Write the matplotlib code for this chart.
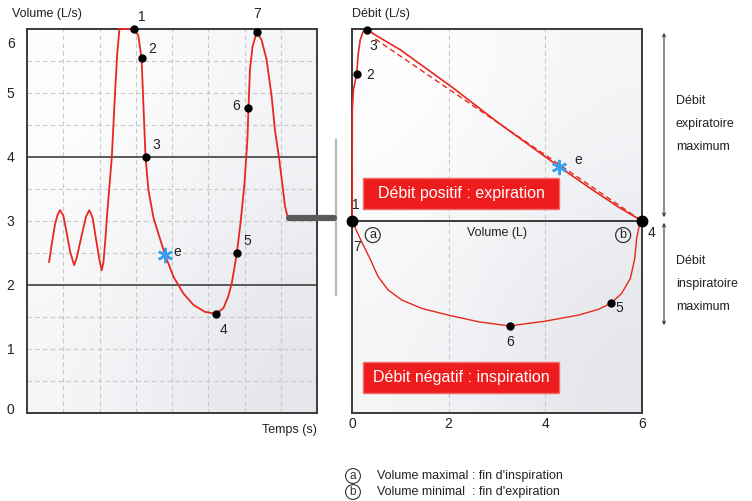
import numpy as np
import matplotlib
matplotlib.use("Agg")
import matplotlib.pyplot as plt
from matplotlib.colors import LinearSegmentedColormap
from matplotlib.patches import FancyBboxPatch, FancyArrowPatch
from matplotlib.lines import Line2D
from matplotlib.transforms import ScaledTranslation

plt.rcParams["font.family"] = ["Liberation Sans", "DejaVu Sans"]

# --- left panel: volume vs time ---
t_vals = [0.61, 0.68, 0.77, 0.84, 0.91, 1.0, 1.09, 1.19, 1.30, 1.37, 1.51, 1.63,
          1.72, 1.81, 1.90, 1.99, 2.06, 2.11, 2.16, 2.21, 2.34, 2.43, 2.49, 2.55,
          2.95, 3.07, 3.16, 3.21, 3.27, 3.35, 3.49, 3.62, 3.81, 4.04, 4.31, 4.59,
          4.91, 5.21, 5.42, 5.55, 5.65, 5.79, 5.90, 6.0, 6.08, 6.11, 6.15, 6.22,
          6.34, 6.47, 6.61, 6.75, 6.84, 6.95, 7.04, 7.12, 7.21]
v_vals = [2.36, 2.63, 2.94, 3.09, 3.17, 3.09, 2.83, 2.52, 2.31, 2.42, 2.78, 3.07,
          3.17, 3.05, 2.73, 2.42, 2.23, 2.36, 2.70, 3.10, 4.0, 5.02, 5.62, 6.0,
          6.0, 5.9, 5.54, 4.84, 4.0, 3.48, 3.05, 2.81, 2.47, 2.13, 1.87, 1.69,
          1.58, 1.55, 1.64, 1.82, 2.03, 2.50, 3.02, 3.59, 4.27, 4.77, 5.36, 5.72,
          5.96, 5.83, 5.52, 4.94, 4.42, 4.0, 3.59, 3.22, 3.02]
left_pts_t = [2.95, 3.16, 3.27, 5.21, 5.79, 6.11, 6.34]
left_pts_v = [6.0, 5.54, 4.0, 1.55, 2.50, 4.77, 5.96]
left_pts_lbl = ["1", "2", "3", "4", "5", "6", "7"]
left_lbl_t = [3.17, 3.45, 3.56, 5.41, 6.07, 5.77, 6.34]
left_lbl_v = [6.19, 5.69, 4.19, 1.30, 2.69, 4.80, 6.23]
left_e = (3.81, 2.47)
left_yticks = [0, 1, 2, 3, 4, 5, 6]

# --- right panel: flow vs volume ---
exp_V = [0.0, 0.003, 0.006, 0.03, 0.097, 0.13, 0.17, 0.23, 0.32, 0.54, 1.0, 2.09,
         3.0, 4.29, 5.0, 5.5, 6.0]
exp_F = [0.0, 1.5, 3.47, 4.1, 4.6, 5.24, 5.66, 5.92, 5.97, 5.76, 5.35, 4.16,
         3.1, 1.69, 0.95, 0.45, 0.0]
ref_V = [0.48, 6.0]
ref_F = [5.69, 0.0]
insp_V = [0.0, 0.2, 0.37, 0.54, 0.75, 1.03, 1.44, 1.99, 2.62, 3.26, 4.0, 4.69,
          5.1, 5.36, 5.58, 5.76, 5.85, 5.89, 5.96, 6.0]
insp_F = [0.0, -0.65, -1.17, -1.74, -2.16, -2.47, -2.73, -2.94, -3.15, -3.28,
          -3.13, -2.94, -2.76, -2.57, -2.26, -1.79, -1.17, -0.54, -0.02, 0.0]
right_pts_V = [0.097, 0.32, 5.36, 3.26]
right_pts_F = [4.6, 5.97, -2.57, -3.28]
right_big_V = [0.0, 6.0]
right_big_F = [0.0, 0.0]
right_lbl = ["1", "2", "3", "4", "5", "6", "7"]
right_lbl_V = [0.08, 0.37, 0.43, 6.19, 5.53, 3.27, 0.10]
right_lbl_F = [0.5, 4.56, 5.47, -0.37, -2.72, -3.78, -0.81]
right_e = (4.29, 1.69)
right_xticks = [0, 2, 4, 6]

RED = "#e8271e"
FRAME = "#3a3a3a"
STAR = "#3aa0ee"
bg_cmap = LinearSegmentedColormap.from_list("bg", ["#ffffff", "#e3e5ea"])


def add_bg(ax):
    ax.imshow(np.array([[0.0, 0.35], [0.35, 1.0]]), extent=(0, 1, 0, 1),
              transform=ax.transAxes, cmap=bg_cmap, interpolation="bicubic",
              aspect="auto", zorder=0, vmin=0, vmax=1)


fig = plt.figure(figsize=(7.52, 5.01), dpi=100)
W, H = 752, 501


def fx(px):
    return px / W


def fy(py):
    return 1 - py / H


# ---------------- left panel ----------------
ax1 = fig.add_axes([fx(27), fy(413), (317 - 27) / W, (413 - 29) / H])
add_bg(ax1)
ax1.set_xlim(0, 8)
ax1.set_ylim(0, 6)
for x in range(1, 8):
    ax1.axvline(x, color="#c8c8c8", ls=(0, (4, 3)), lw=0.8, zorder=1)
for y in np.arange(0.5, 6.0, 0.5):
    if y in (2.0, 4.0):
        ax1.axhline(y, color="#404040", lw=1.2, zorder=1)
    else:
        ax1.axhline(y, color="#c8c8c8", ls=(0, (4, 3)), lw=0.8, zorder=1)
ax1.plot(t_vals, v_vals, color=RED, lw=1.3, zorder=3, clip_on=False,
         solid_joinstyle="round")
ax1.plot(left_pts_t, left_pts_v, "o", color="black", ms=5, zorder=4, clip_on=False)
ax1.plot(*left_e, marker=(6, 2, 0), color=STAR, ms=11, mew=1.8, zorder=5)
for lb, x, y in zip(left_pts_lbl, left_lbl_t, left_lbl_v):
    ax1.text(x, y, lb, ha="center", va="center", fontsize=10, color="#222")
ax1.text(left_e[0] + 0.33, left_e[1] + 0.05, "e", ha="center", va="center",
         fontsize=10, color="#222")
ax1.set_xticks([])
ax1.set_yticks(left_yticks)
ax1.tick_params(axis="y", length=0, pad=9, labelsize=10, labelcolor="#222")
for lbl in ax1.get_yticklabels():
    if lbl.get_text() == "6":
        lbl.set_transform(lbl.get_transform() + ScaledTranslation(0, -0.13, fig.dpi_scale_trans))
    elif lbl.get_text() == "0":
        lbl.set_transform(lbl.get_transform() + ScaledTranslation(0, 0.05, fig.dpi_scale_trans))
for s in ax1.spines.values():
    s.set_color(FRAME)
    s.set_linewidth(1.4)
fig.text(fx(12), fy(14), "Volume (L/s)", fontsize=9, va="center", color="#222")
fig.text(fx(317), fy(430), "Temps (s)", fontsize=9, va="center", ha="right", color="#222")

# ---------------- right panel ----------------
ax2 = fig.add_axes([fx(352), fy(413), (642 - 352) / W, (413 - 29) / H])
add_bg(ax2)
ax2.set_xlim(0, 6)
ax2.set_ylim(-6, 6)
for x in (2, 4):
    ax2.axvline(x, color="#c8c8c8", ls=(0, (4, 3)), lw=0.8, zorder=1)
ax2.axhline(0, color=FRAME, lw=1.4, zorder=2)
ax2.plot(exp_V, exp_F, color=RED, lw=1.2, zorder=3, clip_on=False,
         solid_joinstyle="round")
ax2.plot(ref_V, ref_F, color=RED, lw=1.0, ls=(0, (4, 2.5)), zorder=3)
ax2.plot(insp_V, insp_F, color=RED, lw=1.0, zorder=3, clip_on=False,
         solid_joinstyle="round")
ax2.plot(right_pts_V, right_pts_F, "o", color="black", ms=5, zorder=4, clip_on=False)
ax2.plot(right_big_V, right_big_F, "o", color="black", ms=7.5, zorder=4, clip_on=False)
ax2.plot(*right_e, marker=(6, 2, 0), color=STAR, ms=11, mew=1.8, zorder=5)
for lb, x, y in zip(right_lbl, right_lbl_V, right_lbl_F):
    ax2.text(x, y, lb, ha="center", va="center", fontsize=10, color="#222", zorder=6)
ax2.text(4.68, 1.9, "e", ha="center", va="center", fontsize=10, color="#222")
ax2.text(3.0, -0.37, "Volume (L)", ha="center", va="center", fontsize=9, color="#222")
for lb, x in (("a", 0.43), ("b", 5.61)):
    ax2.text(x, -0.44, lb, ha="center", va="center", fontsize=9, color="#222",
             bbox=dict(boxstyle="circle,pad=0.12", fc="none", ec="#333", lw=0.9))

for (x0, x1, y0, y1, txt) in ((0.23, 4.29, 0.375, 1.34, "Débit positif : expiration"),
                               (0.23, 4.29, -5.375, -4.41, "Débit négatif : inspiration")):
    ax2.add_patch(FancyBboxPatch((x0, y0), x1 - x0, y1 - y0,
                                 boxstyle="square,pad=0", fc="#ee1c1c",
                                 ec="#f36a6a", lw=1.0, zorder=6))
    ax2.text((x0 + x1) / 2, (y0 + y1) / 2, txt, ha="center", va="center",
             fontsize=11.5, color="white", zorder=7)

ax2.set_xticks(right_xticks)
ax2.set_yticks([])
ax2.tick_params(axis="x", length=0, pad=3, labelsize=10, labelcolor="#222")
for s in ax2.spines.values():
    s.set_color(FRAME)
    s.set_linewidth(1.4)
fig.text(fx(352), fy(14), "Débit (L/s)", fontsize=9, va="center", color="#222")

# connector between the panels
fig.add_artist(Line2D([fx(336), fx(336)], [fy(140), fy(295)], color="#8a8a8a",
                      lw=1.6, alpha=0.6))
fig.add_artist(Line2D([fx(289), fx(334)], [fy(218), fy(218)], color="#5a5a5a",
                      lw=4.5, solid_capstyle="round"))

# right-hand annotation
for ya, yb in ((30, 220), (220, 328)):
    fig.add_artist(FancyArrowPatch(
        (fx(664), fy(ya)), (fx(664), fy(yb)), transform=fig.transFigure,
        arrowstyle="<->", mutation_scale=5, color="#333", lw=0.8))
fig.text(fx(676), fy(124), "Débit\nexpiratoire\nmaximum", fontsize=9, va="center",
         linespacing=2.2, color="#222")
fig.text(fx(676), fy(284), "Débit\ninspiratoire\nmaximum", fontsize=9, va="center",
         linespacing=2.2, color="#222")

# legend for (a) / (b)
for lb, y, txt in (("a", 476, "Volume maximal : fin d'inspiration"),
                   ("b", 492, "Volume minimal  : fin d'expiration")):
    fig.text(fx(353), fy(y), lb, ha="center", va="center", fontsize=8.5, color="#333",
             bbox=dict(boxstyle="circle,pad=0.12", fc="none", ec="#333", lw=0.8))
    fig.text(fx(377), fy(y), txt, ha="left", va="center", fontsize=9, color="#222")

fig.savefig("out.png", dpi=100)
